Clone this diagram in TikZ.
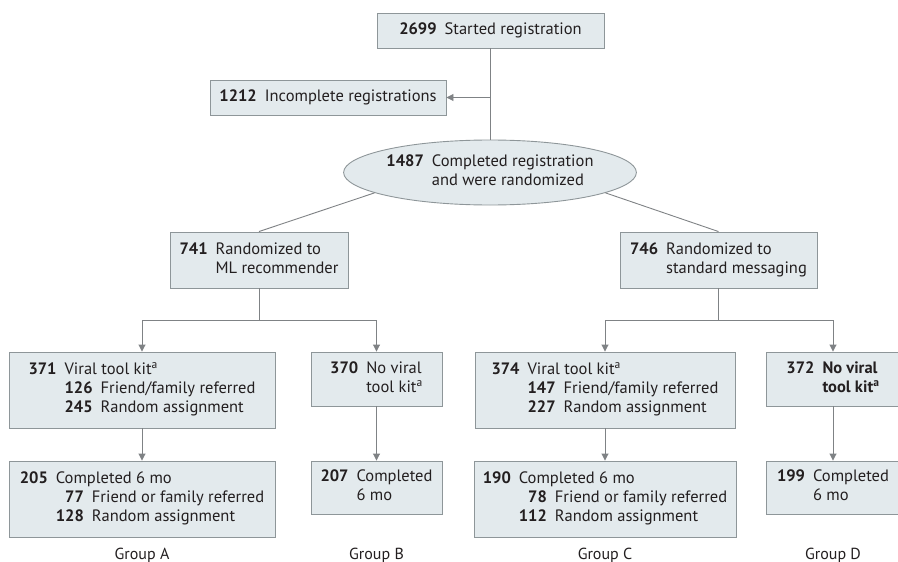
\documentclass[tikz,border=0pt]{standalone}
\usepackage{fontspec}
\setmainfont{PT Sans}
\usetikzlibrary{arrows.meta,shapes.geometric}
\definecolor{boxfill}{HTML}{E3EAED}
\definecolor{boxline}{HTML}{8E9699}
\definecolor{conn}{HTML}{7F8285}
\definecolor{txt}{HTML}{231F20}
\begin{document}
\begin{tikzpicture}[x=1pt,y=-1pt,
  every node/.style={text=txt,font=\fontsize{16.5}{19}\selectfont},
  fbox/.style={draw=boxline,fill=boxfill,line width=0.9pt,inner sep=0pt,rectangle},
  fell/.style={draw=boxline,fill=boxfill,line width=0.9pt,inner sep=0pt,ellipse},
  conline/.style={draw=conn,line width=0.9pt},
  conarrow/.style={draw=conn,line width=0.9pt,-{Triangle[length=7pt,width=7pt]}},
  grp/.style={font=\fontsize{16}{19}\selectfont}]
\useasboundingbox (0,0) rectangle (898,562);
\def\g{\hspace{8pt}}
% nodes
\node[fbox,minimum width=227pt,minimum height=35pt] (top) at (490.5,30.5) {\textbf{2699}\g Started registration};
\node[fbox,minimum width=236pt,minimum height=35pt] (inc) at (328,97.5) {\textbf{1212}\g Incomplete registrations};
\node[fell,minimum width=276pt,minimum height=65pt] (ell) at (490,172.5) {\begin{tabular}{@{}r@{\g}l@{}}\textbf{1487}&Completed registration\\&and were randomized\end{tabular}};
\node[fbox,minimum width=178pt,minimum height=56pt] (b741) at (259,260) {\begin{tabular}{@{}r@{\g}l@{}}\textbf{741}&Randomized to\\&ML recommender\end{tabular}};
\node[fbox,minimum width=197pt,minimum height=56pt] (b746) at (718.5,260) {\begin{tabular}{@{}r@{\g}l@{}}\textbf{746}&Randomized to\\&standard messaging\end{tabular}};
\node[fbox,minimum width=266pt,minimum height=76pt] (b371) at (142,390) {\begin{tabular}{@{}r@{\g}r@{\g}l@{}}\textbf{371}&\multicolumn{2}{@{}l@{}}{Viral tool kit\textsuperscript{a}}\\&\textbf{126}&Friend/family referred\\&\textbf{245}&Random assignment\end{tabular}};
\node[fbox,minimum width=131pt,minimum height=54pt] (b370) at (376.5,379) {\begin{tabular}{@{}r@{\g}l@{}}\textbf{370}&No viral\\&tool kit\textsuperscript{a}\end{tabular}};
\node[fbox,minimum width=260pt,minimum height=76pt] (b374) at (605,390) {\begin{tabular}{@{}r@{\g}r@{\g}l@{}}\textbf{374}&\multicolumn{2}{@{}l@{}}{Viral tool kit\textsuperscript{a}}\\&\textbf{147}&Friend/family referred\\&\textbf{227}&Random assignment\end{tabular}};
\node[fbox,minimum width=134pt,minimum height=54pt] (b372) at (833,379) {\begin{tabular}{@{}r@{\g}l@{}}\textbf{372}&\textbf{No viral}\\&\textbf{tool kit\textsuperscript{a}}\end{tabular}};
\node[fbox,minimum width=266pt,minimum height=76pt] (b205) at (142,499) {\begin{tabular}{@{}r@{\g}r@{\g}l@{}}\textbf{205}&\multicolumn{2}{@{}l@{}}{Completed 6 mo}\\&\textbf{77}&Friend or family referred\\&\textbf{128}&Random assignment\end{tabular}};
\node[fbox,minimum width=131pt,minimum height=53pt] (b207) at (376.5,487.5) {\begin{tabular}{@{}r@{\g}l@{}}\textbf{207}&Completed\\&6 mo\end{tabular}};
\node[fbox,minimum width=262pt,minimum height=76pt] (b190) at (605,499) {\begin{tabular}{@{}r@{\g}r@{\g}l@{}}\textbf{190}&\multicolumn{2}{@{}l@{}}{Completed 6 mo}\\&\textbf{78}&Friend or family referred\\&\textbf{112}&Random assignment\end{tabular}};
\node[fbox,minimum width=134pt,minimum height=53pt] (b199) at (833,487.5) {\begin{tabular}{@{}r@{\g}l@{}}\textbf{199}&Completed\\&6 mo\end{tabular}};
\node[grp] (gA) at (142,555) {Group A};
\node[grp] (gB) at (376.5,555) {Group B};
\node[grp] (gC) at (605,555) {Group C};
\node[grp] (gD) at (833,555) {Group D};
% connectors
\coordinate (split) at (top.south |- inc.east);
\draw[conline] (top.south) -- (top.south |- ell.north);
\draw[conarrow] (split) -- (inc.east);
\draw[conline] (ell.190) -- (b741.north);
\draw[conline] (ell.-10) -- (b746.north);
\coordinate (f1) at (259,320);
\coordinate (f2) at (718.5,320);
\draw[conline] (b741.south) -- (f1);
\draw[conline] (b371.north |- f1) -- (b370.north |- f1);
\draw[conarrow] (b371.north |- f1) -- (b371.north);
\draw[conarrow] (b370.north |- f1) -- (b370.north);
\draw[conline] (b746.south) -- (f2);
\draw[conline] (b374.north |- f2) -- (b372.north |- f2);
\draw[conarrow] (b374.north |- f2) -- (b374.north);
\draw[conarrow] (b372.north |- f2) -- (b372.north);
\draw[conarrow] (b371.south) -- (b205.north);
\draw[conarrow] (b370.south) -- (b207.north);
\draw[conarrow] (b374.south) -- (b190.north);
\draw[conarrow] (b372.south) -- (b199.north);
\end{tikzpicture}
\end{document}
